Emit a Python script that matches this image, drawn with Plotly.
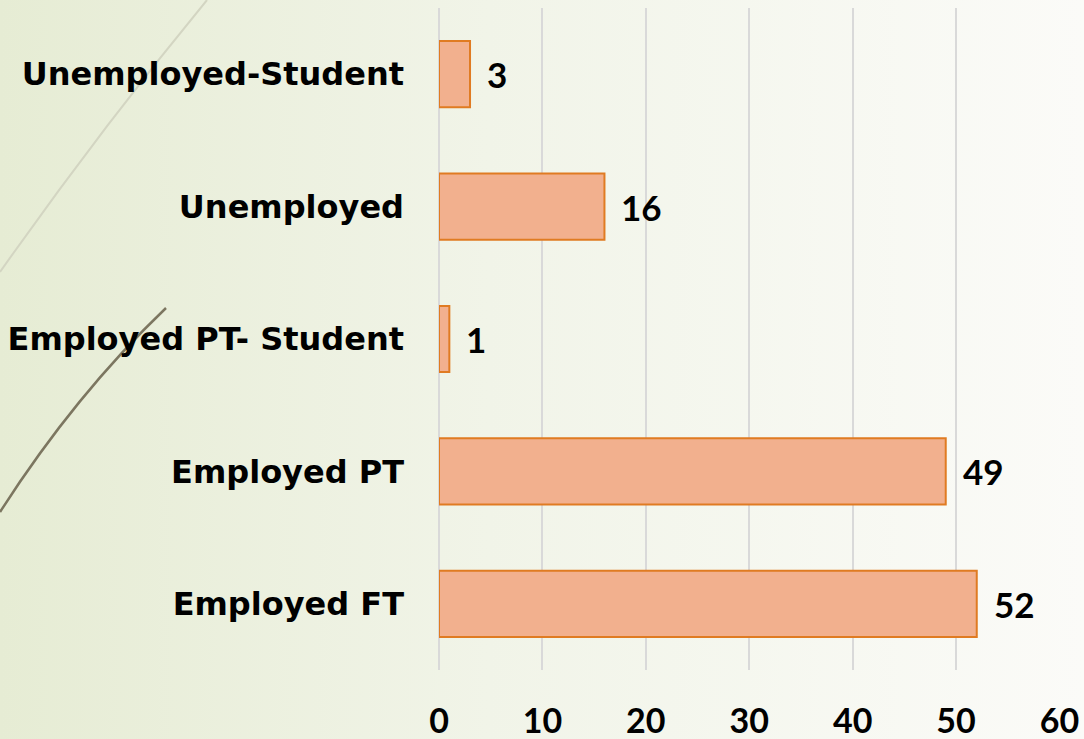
import base64
import plotly.graph_objects as go

categories = ["Unemployed-Student", "Unemployed", "Employed PT- Student", "Employed PT", "Employed FT"]
values = [3, 16, 1, 49, 52]
x_ticks = [0, 10, 20, 30, 40, 50, 60]

W, H = 1084, 739
ML, MR, MT, MB = 439, 24, 8, 69
pw, ph = W - ML - MR, H - MT - MB

svg = f'''<svg xmlns="http://www.w3.org/2000/svg" width="{W}" height="{H}" viewBox="0 0 {W} {H}" preserveAspectRatio="none">
<defs><linearGradient id="g" x1="0" y1="0" x2="1" y2="0">
<stop offset="0" stop-color="#e6ecd4"/><stop offset="0.45" stop-color="#f1f4e8"/><stop offset="1" stop-color="#fbfbf8"/>
</linearGradient></defs>
<rect x="0" y="0" width="{W}" height="{H}" fill="url(#g)"/>
<path d="M207,0 Q100,130 0,272" fill="none" stroke="#d3d5c2" stroke-width="2"/>
<path d="M166,308 Q75,395 0,512" fill="none" stroke="#7c7660" stroke-width="2.5"/>
</svg>'''
src = "data:image/svg+xml;base64," + base64.b64encode(svg.encode()).decode()

num_font = "Lato"
cat_font = "DejaVu Sans"

fig = go.Figure()
fig.add_trace(go.Bar(
    x=values, y=categories, orientation="h", width=0.5,
    marker=dict(color="#f2b08e", line=dict(color="#e07b22", width=2)),
    hoverinfo="skip",
))

for c, v in zip(categories, values):
    fig.add_annotation(x=v, y=c, text=str(v), showarrow=False, xanchor="left", xshift=15,
                       font=dict(family=num_font, size=35, color="#000", weight="bold"))

fig.update_layout(
    width=W, height=H,
    margin=dict(l=ML, r=MR, t=MT, b=MB, autoexpand=False),
    paper_bgcolor="white", plot_bgcolor="rgba(0,0,0,0)",
    showlegend=False,
    images=[dict(source=src, xref="paper", yref="paper",
                 x=-ML / pw, y=1 + MT / ph, sizex=W / pw, sizey=H / ph,
                 xanchor="left", yanchor="top", sizing="stretch", layer="below")],
    xaxis=dict(range=[0, 60.05], tickvals=x_ticks, showgrid=True, gridcolor="#d9d9d9", gridwidth=2,
               zeroline=True, zerolinecolor="#d9d9d9", zerolinewidth=2, showline=False,
               ticklabelstandoff=28, automargin=False,
               tickfont=dict(family=num_font, size=34, color="#000", weight="bold")),
    yaxis=dict(categoryorder="array", categoryarray=categories, autorange="reversed",
               showgrid=False, zeroline=False, showline=False, ticklabelstandoff=34, automargin=False,
               tickfont=dict(family=cat_font, size=32, color="#000", weight="bold")),
)

fig.write_html("out.html", config={"displayModeBar": False},
               post_script="document.body.style.margin='0';document.body.style.overflow='hidden';")
